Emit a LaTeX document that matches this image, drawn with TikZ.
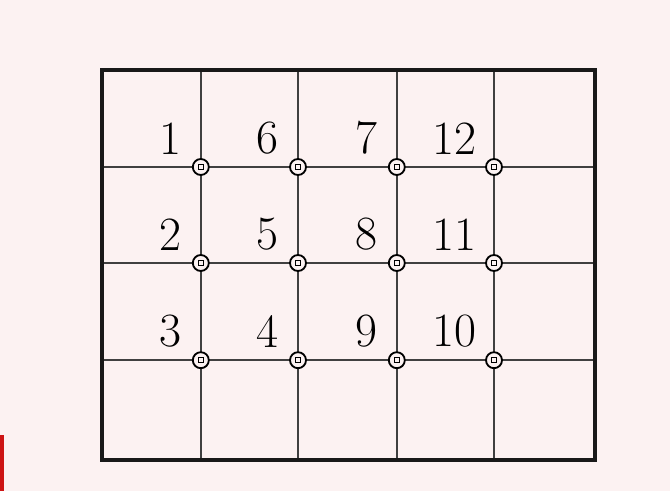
\documentclass[tikz,border=0pt]{standalone}
\usetikzlibrary{positioning, calc}
\definecolor{paper}{RGB}{252,242,242}
\definecolor{edgered}{RGB}{205,20,20}
\tikzset{
  frame/.style = {line width = 2.8pt, black!90},
  gridline/.style = {line width = 1.7pt, black!75},
  joint/.style = {circle, draw, line width = 1.3pt, fill = paper, minimum size = 0.4cm,
    inner sep = 0pt,
    path picture = {\draw [line width = 0.7pt] ($(path picture bounding box.center) + (-0.06,-0.06)$)
      rectangle ($(path picture bounding box.center) + (0.06,0.06)$);}},
  num/.style = {font = \fontsize{34}{40}\selectfont, inner sep = 0pt}
}

\begin{document}
\begin{tikzpicture}

% paper and the red strip at the left edge
\fill [paper] (0,0) rectangle (16.75,12.275);
\fill [edgered] (0,0) rectangle (0.09,1.4);

% grid lines
\foreach \x in {5.02,7.45,9.92,12.35}
  \draw [gridline] (\x,0.775) -- (\x,10.525);
\foreach \y in {3.27,5.7,8.1}
  \draw [gridline] (2.55,\y) -- (14.875,\y);

\draw [frame] (2.55,0.775) rectangle (14.875,10.525);

% joints
\foreach \x [count = \c] in {5.02,7.45,9.92,12.35}
  \foreach \y [count = \r] in {8.1,5.7,3.27}
    \node [joint] (j\c\r) at (\x,\y) {};

% numbers
\node [num, above left = 0.15cm and 0.32cm of j11] {1};
\node [num, above left = 0.15cm and 0.32cm of j12] {2};
\node [num, above left = 0.15cm and 0.32cm of j13] {3};
\node [num, above left = 0.15cm and 0.32cm of j21] {6};
\node [num, above left = 0.15cm and 0.32cm of j22] {5};
\node [num, above left = 0.15cm and 0.32cm of j23] {4};
\node [num, above left = 0.15cm and 0.32cm of j31] {7};
\node [num, above left = 0.15cm and 0.32cm of j32] {8};
\node [num, above left = 0.15cm and 0.32cm of j33] {9};
\node [num, above left = 0.15cm and 0.28cm of j41] {12};
\node [num, above left = 0.15cm and 0.28cm of j42] {11};
\node [num, above left = 0.15cm and 0.28cm of j43] {10};

\end{tikzpicture}
\end{document}
